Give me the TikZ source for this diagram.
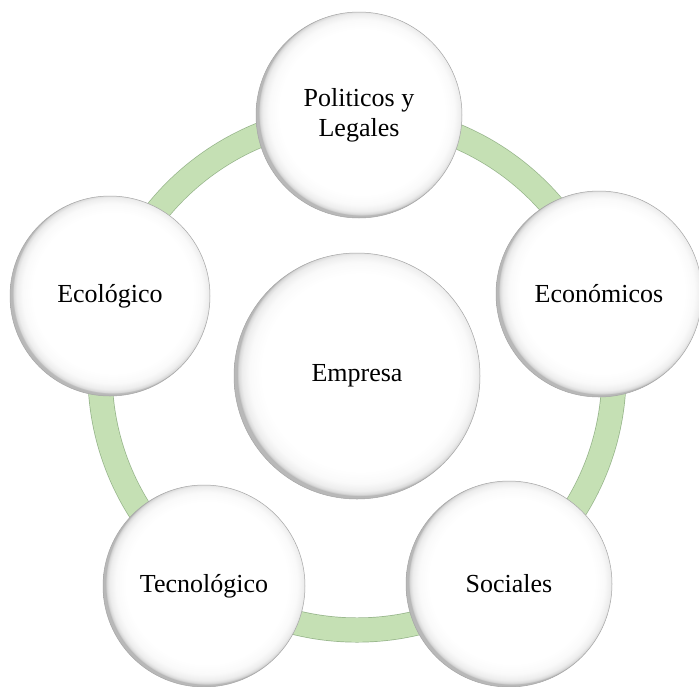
\documentclass[tikz,border=0pt]{standalone}
\usepackage{fontspec}
\setmainfont{Liberation Serif}
\pgfdeclareradialshading{bubshade}{\pgfpoint{1.2bp}{1.2bp}}{color(0bp)=(white); color(20bp)=(white); color(22.5bp)=(black!2); color(24bp)=(black!7); color(24.7bp)=(black!15); color(25bp)=(black!28); color(50bp)=(black!28)}
\definecolor{ringfill}{RGB}{197,224,180}
\definecolor{ringedge}{RGB}{150,180,138}
\tikzset{
  bubble/.style={circle, minimum size=#1, inner sep=0pt, align=center,
    shade, shading=bubshade, draw=black!35, line width=0.5pt,
    font=\fontsize{26}{30}\selectfont, text=black},
}
\begin{document}
\begin{tikzpicture}[x=1pt,y=1pt]
\useasboundingbox (0,0) rectangle (699,-686);
\fill[white] (0,0) rectangle (699,-686);
% ring
\coordinate (rc) at (357,-373);
\draw[ringedge, line width=25pt] (rc) circle (257);
\draw[ringfill, line width=23.6pt] (rc) circle (257);
% outer circles
\node[bubble=206pt] (pol) at (359,-115) {Politicos y\\Legales};
\node[bubble=206pt] (eco) at (599,-294) {Económicos};
\node[bubble=206pt] (soc) at (509,-584) {Sociales};
\node[bubble=202pt] (tec) at (204,-586) {Tecnológico};
\node[bubble=200pt] (ecl) at (110,-296) {Ecológico};
% centre
\node[bubble=246pt] (emp) at (357,-376) {Empresa};
\end{tikzpicture}
\end{document}
